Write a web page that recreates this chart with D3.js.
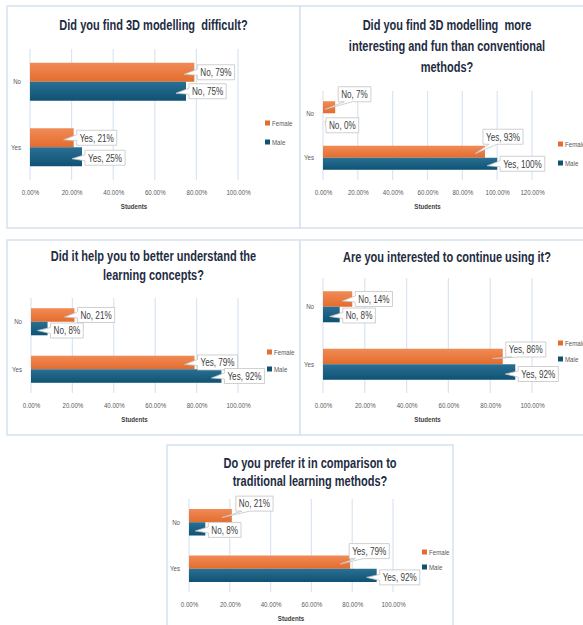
<!DOCTYPE html>
<html>
<head>
<meta charset="utf-8">
<script src="https://cdn.jsdelivr.net/npm/d3@7"></script>
<style>
  body { margin: 0; background: #fff; }
  svg { display: block; font-family: "Liberation Sans", Arial, sans-serif; }
  text { white-space: pre; }
</style>
</head>
<body>
<svg id="chart" width="583" height="625"></svg>
<script>
'use strict';

// ---- data ----
var seriesNames = ["Female", "Male"];
var categories = ["No", "Yes"];
var titles = [
  ["Did you find 3D modelling  difficult?"],
  ["Did you find 3D modelling  more", "interesting and fun than conventional", "methods?"],
  ["Did it help you to better understand the", "learning concepts?"],
  ["Are you interested to continue using it?"],
  ["Do you prefer it in comparison to", "traditional learning methods?"]
];
// percent of students, per chart: [No, Yes]
var femaleValues = [[79, 21], [7, 93], [21, 79], [14, 86], [21, 79]];
var maleValues = [[75, 25], [0, 100], [8, 92], [8, 92], [8, 92]];
var ticks100 = [0, 20, 40, 60, 80, 100];
var ticks120 = [0, 20, 40, 60, 80, 100, 120];
var axisTicks = [ticks100, ticks120, ticks100, ticks100, ticks100];
var axisTitle = "Students";

// ---- layout (positions only) ----
var layout = [
  {frame: [7, 6, 300, 228], titleY: [25], x: [30, 238], y: [49, 180], group: 0.58,
   legend: [265, 123, 142], nudge: [[[0, 0], [0, 0]], [[0, 0], [0, 1]]]},
  {frame: [300, 6, 594, 228], titleY: [25, 46, 67], x: [323, 532], y: [91, 180], group: 0.54,
   legend: [558, 144, 163], nudge: [[[0, -13], [-5, -15]], [[0, 6], [0, 0]]]},
  {frame: [7, 240, 300, 435], titleY: [256, 275], x: [31, 238], y: [298, 393], group: 0.57,
   legend: [267, 352, 369], nudge: [[[0, 0], [0, 0]], [[0, 2], [0, 0]]]},
  {frame: [300, 240, 594, 435], titleY: [257], x: [323, 532], y: [278, 393], group: 0.54,
   legend: [558, 343, 359], nudge: [[[0, 0], [0, -7]], [[0, 1], [0, 2]]]},
  {frame: [167, 445, 453, 640], titleY: [463, 481], x: [189, 393], y: [499, 592], group: 0.57,
   legend: [422, 552, 567], nudge: [[[1, -12], [-4, -11]], [[0, 1], [0, 2]]]}
];

var colors = {Female: ["#f08b57", "#e46c2d"], Male: ["#2a7094", "#0f5273"]};
var fmt = d3.format(".2%");
var SX = 0.82;      // narrow face look for small text
var SX_TITLE = 0.76;
var SX_LABEL = 0.74;

var svg = d3.select("#chart");
var defs = svg.append("defs");
seriesNames.forEach(function(s) {
  var lg = defs.append("linearGradient").attr("id", "grad-" + s)
    .attr("x1", 0).attr("y1", 0).attr("x2", 0).attr("y2", 1);
  lg.append("stop").attr("offset", "0%").attr("stop-color", colors[s][0]);
  lg.append("stop").attr("offset", "100%").attr("stop-color", colors[s][1]);
});

function at(x, y, sx) {
  return "translate(" + x + "," + y + ") scale(" + (sx || SX) + ",1)";
}

function calloutPath(bx, by, bw, bh, tx, ty) {
  var cy = by + bh / 2;
  if (ty > by + bh) {
    return "M" + bx + "," + by + "H" + (bx + bw) + "V" + (by + bh) + "H" + (bx + 14) +
      "L" + tx + "," + ty + "L" + (bx + 6) + "," + (by + bh) + "H" + bx + "Z";
  }
  if (ty < by) {
    return "M" + bx + "," + by + "H" + (bx + 6) + "L" + tx + "," + ty + "L" + (bx + 14) + "," + by +
      "H" + (bx + bw) + "V" + (by + bh) + "H" + bx + "Z";
  }
  return "M" + bx + "," + by + "H" + (bx + bw) + "V" + (by + bh) + "H" + bx +
    "V" + (cy + 3) + "L" + tx + "," + ty + "L" + bx + "," + (cy - 3) + "Z";
}

var drawPanel = function(p, i) {
  var g = svg.append("g");
  var f = p.frame;

  g.append("rect")
    .attr("x", f[0]).attr("y", f[1])
    .attr("width", f[2] - f[0]).attr("height", f[3] - f[1])
    .attr("fill", "#fff")
    .attr("stroke", "#d5e2f1")
    .attr("stroke-width", 1.5);

  var ticks = axisTicks[i];
  var xMax = ticks[ticks.length - 1];
  var xScale = d3.scaleLinear().domain([0, xMax]).range(p.x);
  var yScale = d3.scaleBand().domain(categories).range(p.y);
  var groupH = yScale.bandwidth() * p.group;
  var sScale = d3.scaleBand().domain(seriesNames).range([0, groupH]);

  // title
  g.append("g").selectAll("text")
    .data(titles[i])
    .enter()
    .append("text")
    .attr("transform", function(d, k) { return at((f[0] + f[2]) / 2, p.titleY[k], SX_TITLE); })
    .attr("dy", ".35em")
    .attr("text-anchor", "middle")
    .attr("font-size", "14.5px")
    .attr("font-weight", "bold")
    .attr("fill", "#1e2c42")
    .text(function(d) { return d; });

  // gridlines
  g.append("g").selectAll("line")
    .data(ticks)
    .enter()
    .append("line")
    .attr("x1", function(d) { return xScale(d); })
    .attr("x2", function(d) { return xScale(d); })
    .attr("y1", p.y[0]).attr("y2", p.y[1])
    .attr("stroke", "#d9e5f3")
    .attr("stroke-width", 1.2);

  // x axis labels
  var axis = g.append("g")
    .attr("transform", "translate(0," + (p.y[1] + 12) + ")")
    .call(d3.axisBottom(xScale).tickValues(ticks).tickSize(0).tickPadding(0)
      .tickFormat(function(d) { return fmt(d / 100); }));
  axis.select(".domain").remove();
  axis.selectAll("text")
    .attr("y", null)
    .attr("dy", ".35em")
    .attr("transform", "scale(" + SX + ",1)")
    .attr("font-size", "7.5px")
    .attr("font-family", null)
    .attr("fill", "#595959");

  g.append("text")
    .attr("transform", at((p.x[0] + p.x[1]) / 2, p.y[1] + 26))
    .attr("dy", ".35em")
    .attr("text-anchor", "middle")
    .attr("font-size", "7.5px")
    .attr("font-weight", "bold")
    .attr("fill", "#404040")
    .text(axisTitle);

  // category labels
  g.append("g").selectAll("text")
    .data(categories)
    .enter()
    .append("text")
    .attr("transform", function(d) { return at(p.x[0] - 9, yScale(d) + yScale.bandwidth() / 2); })
    .attr("dy", ".35em")
    .attr("text-anchor", "end")
    .attr("font-size", "7.5px")
    .attr("fill", "#595959")
    .text(function(d) { return d; });

  var rows = [];
  seriesNames.forEach(function(s, si) {
    var vals = si === 0 ? femaleValues[i] : maleValues[i];
    categories.forEach(function(c, ci) {
      rows.push({series: s, si: si, cat: c, ci: ci, value: vals[ci]});
    });
  });
  var barY = function(d) {
    return yScale(d.cat) + (yScale.bandwidth() - groupH) / 2 + sScale(d.series);
  };

  // bars
  g.append("g").selectAll("rect")
    .data(rows)
    .enter()
    .append("rect")
    .attr("x", xScale(0))
    .attr("y", barY)
    .attr("width", function(d) { return xScale(d.value) - xScale(0); })
    .attr("height", sScale.bandwidth())
    .attr("fill", function(d) { return "url(#grad-" + d.series + ")"; });

  // data label callouts
  var lab = g.append("g").selectAll("g")
    .data(rows)
    .enter()
    .append("g");
  lab.each(function(d) {
    var el = d3.select(this);
    var nd = p.nudge[d.si][d.ci];
    var end = xScale(d.value);
    var cy = barY(d) + sScale.bandwidth() / 2;
    var t = el.append("text")
      .attr("font-size", "11px")
      .attr("fill", "#404040")
      .text(d.cat + ", " + d.value + "%");
    var w = t.node().getComputedTextLength() * SX_LABEL + 6;
    var h = 15;
    var bx = end + 3 + nd[0];
    var by = cy - h / 2 + nd[1];
    var tx = Math.max(xScale(0) + 2, end - 10);
    var ty = cy + 2;
    el.insert("path", "text")
      .attr("d", calloutPath(bx, by, w, h, tx, ty))
      .attr("fill", "#fff")
      .attr("stroke", "#c4c4c4")
      .attr("stroke-width", 0.8);
    t.attr("transform", at(bx + 3, by + h / 2, SX_LABEL)).attr("dy", ".35em");
  });

  // legend
  var leg = g.append("g").selectAll("g")
    .data(seriesNames)
    .enter()
    .append("g")
    .attr("transform", function(d, k) { return "translate(" + p.legend[0] + "," + p.legend[k + 1] + ")"; });
  leg.append("rect")
    .attr("x", 0).attr("y", -2.5)
    .attr("width", 5).attr("height", 5)
    .attr("fill", function(d) { return colors[d][1]; });
  leg.append("text")
    .attr("transform", at(7, 0))
    .attr("dy", ".35em")
    .attr("font-size", "7.5px")
    .attr("fill", "#595959")
    .text(function(d) { return d; });
};

layout.forEach(drawPanel);
</script>
</body>
</html>
